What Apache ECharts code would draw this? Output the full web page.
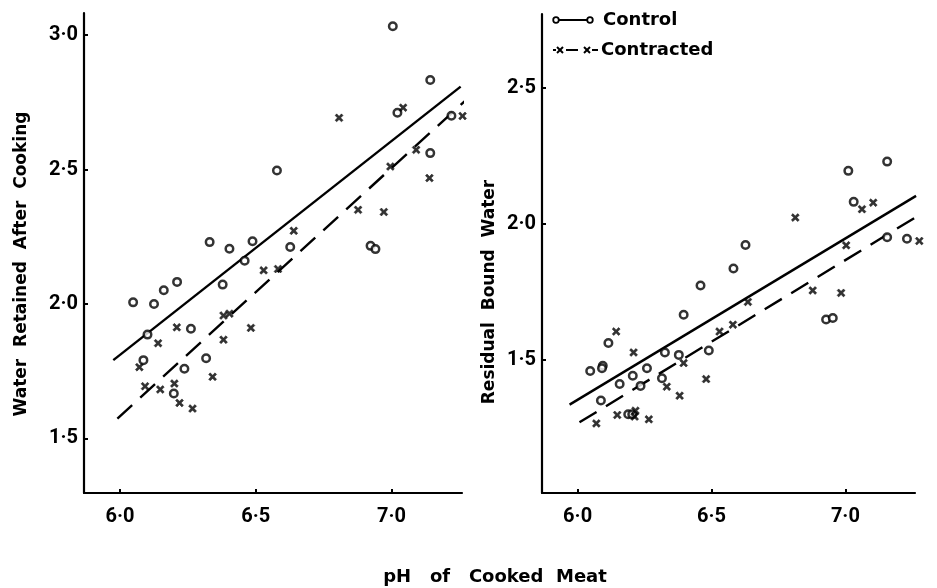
<!DOCTYPE html>
<html>
<head>
<meta charset="utf-8">
<script src="https://cdn.jsdelivr.net/npm/echarts@6/dist/echarts.min.js"></script>
<style>
html,body{margin:0;padding:0;background:#fff;}
#chart{width:937px;height:588px;}
</style>
</head>
<body>
<div id="chart"></div>
<script>
// ---- data ----
var xTicks = [6.0, 6.5, 7.0];
var yTicksLeft = [1.5, 2.0, 2.5, 3.0];
var yTicksRight = [1.5, 2.0, 2.5];

var leftControl = [[7.005,3.033],[7.143,2.833],[7.022,2.711],[7.221,2.700],[7.143,2.561],[6.578,2.496],[6.330,2.230],[6.403,2.205],[6.488,2.233],[6.627,2.212],[6.923,2.216],[6.941,2.204],[6.459,2.161],[6.378,2.072],[6.210,2.082],[6.161,2.051],[6.048,2.006],[6.125,2.000],[6.261,1.908],[6.101,1.886],[6.086,1.791],[6.317,1.798],[6.237,1.759],[6.198,1.667]];
var leftContracted = [[7.043,2.730],[6.807,2.692],[7.262,2.699],[7.091,2.573],[6.996,2.511],[7.140,2.468],[6.877,2.350],[6.972,2.342],[6.640,2.272],[6.529,2.125],[6.582,2.130],[6.381,1.957],[6.403,1.964],[6.209,1.913],[6.482,1.911],[6.140,1.854],[6.381,1.867],[6.071,1.765],[6.341,1.729],[6.092,1.694],[6.148,1.682],[6.200,1.704],[6.219,1.632],[6.267,1.611]];
var rightControl = [[7.011,2.195],[7.156,2.229],[7.031,2.081],[6.627,1.922],[7.156,1.951],[7.230,1.945],[6.582,1.836],[6.459,1.773],[6.396,1.666],[6.928,1.648],[6.953,1.654],[6.490,1.534],[6.378,1.518],[6.326,1.527],[6.315,1.432],[6.259,1.469],[6.206,1.441],[6.235,1.404],[6.157,1.411],[6.115,1.562],[6.094,1.478],[6.091,1.469],[6.047,1.459],[6.087,1.350],[6.189,1.300],[6.204,1.300]];
var rightContracted = [[7.062,2.054],[7.104,2.078],[6.813,2.023],[7.276,1.937],[7.003,1.921],[6.878,1.755],[6.984,1.746],[6.636,1.713],[6.580,1.629],[6.530,1.604],[6.480,1.429],[6.396,1.488],[6.333,1.401],[6.381,1.368],[6.209,1.527],[6.144,1.604],[6.216,1.313],[6.213,1.291],[6.148,1.297],[6.266,1.281],[6.070,1.266]];

var leftControlFit = [[5.975,1.791],[7.255,2.808]];
var leftContractedFit = [[5.990,1.574],[7.298,2.780]];
var rightControlFit = [[5.970,1.335],[7.264,2.103]];
var rightContractedFit = [[6.007,1.270],[7.290,2.041]];

var leftYTitle = 'Water  Retained  After  Cooking';
var rightYTitle = 'Residual  Bound  Water';
var xTitle = 'pH   of   Cooked  Meat';
var legendNames = ['Control', 'Contracted'];

// ---- styling ----
var FONT = '"DejaVu Sans", sans-serif';
var TICKFONT = 'Roboto, "Liberation Sans", sans-serif';
var fmt = function (v) { return Number(v).toFixed(1).replace('.', '\u00B7'); };
var crossPath = 'path://M0,2L2,0L5,3L8,0L10,2L7,5L10,8L8,10L5,7L2,10L0,8L3,5Z';

function xAxisDef(idx) {
  return {
    type: 'value', gridIndex: idx, min: 5.867, max: 7.26,
    axisLine: { show: true, onZero: false, lineStyle: { color: '#000', width: 2.2 } },
    axisTick: { show: true, inside: true, length: 4, customValues: xTicks, lineStyle: { color: '#000', width: 2 } },
    axisLabel: { customValues: xTicks, formatter: fmt, color: '#000', fontFamily: TICKFONT, fontWeight: 'bold', fontSize: 20, margin: 14 },
    splitLine: { show: false }
  };
}
function yAxisDef(idx, min, max, ticks) {
  return {
    type: 'value', gridIndex: idx, min: min, max: max,
    axisLine: { show: true, onZero: false, lineStyle: { color: '#000', width: 2.2 } },
    axisTick: { show: true, inside: true, length: 4, customValues: ticks, lineStyle: { color: '#000', width: 2 } },
    axisLabel: { customValues: ticks, formatter: fmt, color: '#000', fontFamily: TICKFONT, fontWeight: 'bold', fontSize: 20, margin: 6 },
    splitLine: { show: false }
  };
}
function scatter(name, idx, data, isCross) {
  return {
    name: name, type: 'scatter', xAxisIndex: idx, yAxisIndex: idx, data: data, clip: false,
    symbol: isCross ? crossPath : 'circle',
    symbolSize: isCross ? 8 : 7.5,
    itemStyle: isCross ? { color: '#000', borderColor: '#000', borderWidth: 0.5 } : { color: '#fff', borderColor: '#000', borderWidth: 2.5 },
    z: 3
  };
}
function fit(name, idx, data, dashed) {
  return {
    name: name, type: 'line', xAxisIndex: idx, yAxisIndex: idx, data: data, clip: false,
    symbol: 'none', silent: true,
    lineStyle: { color: '#000', width: 2.4, type: dashed ? [20, 11] : 'solid' },
    z: 2
  };
}
function seg(x1, y1, x2, y2) {
  return { type: 'line', shape: { x1: x1, y1: y1, x2: x2, y2: y2 }, style: { stroke: '#000', lineWidth: 2 } };
}

var chart = echarts.init(document.getElementById('chart'), null, { renderer: 'canvas' });
chart.setOption({
  backgroundColor: '#fff',
  animation: false,
  grid: [
    { left: 84, top: 13, width: 378, height: 480, containLabel: false },
    { left: 542, top: 14, width: 373, height: 479, containLabel: false }
  ],
  xAxis: [xAxisDef(0), xAxisDef(1)],
  yAxis: [yAxisDef(0, 1.297, 3.082, yTicksLeft), yAxisDef(1, 1.01, 2.772, yTicksRight)],
  series: [
    fit(legendNames[0], 0, leftControlFit, false),
    fit(legendNames[1], 0, leftContractedFit, true),
    scatter(legendNames[0], 0, leftControl, false),
    scatter(legendNames[1], 0, leftContracted, true),
    fit(legendNames[0], 1, rightControlFit, false),
    fit(legendNames[1], 1, rightContractedFit, true),
    scatter(legendNames[0], 1, rightControl, false),
    scatter(legendNames[1], 1, rightContracted, true)
  ],
  graphic: [
    { type: 'text', x: 22, y: 264, rotation: Math.PI / 2, style: { text: leftYTitle, fill: '#000', font: 'bold 17px ' + FONT, textAlign: 'center', textVerticalAlign: 'middle' } },
    { type: 'text', x: 490, y: 292, rotation: Math.PI / 2, style: { text: rightYTitle, fill: '#000', font: 'bold 17px ' + FONT, textAlign: 'center', textVerticalAlign: 'middle' } },
    { type: 'text', x: 495, y: 577, style: { text: xTitle, fill: '#000', font: 'bold 18px ' + FONT, textAlign: 'center', textVerticalAlign: 'middle' } },
    // legend: Control
    seg(556, 20, 590, 20),
    { type: 'circle', shape: { cx: 556, cy: 20, r: 2.8 }, style: { fill: '#fff', stroke: '#000', lineWidth: 1.8 } },
    { type: 'circle', shape: { cx: 590, cy: 20, r: 2.8 }, style: { fill: '#fff', stroke: '#000', lineWidth: 1.8 } },
    { type: 'text', x: 603, y: 20, style: { text: legendNames[0], fill: '#000', font: 'bold 18px ' + FONT, textVerticalAlign: 'middle' } },
    // legend: Contracted
    seg(553, 50, 556, 50),
    seg(557, 47, 563, 53), seg(563, 47, 557, 53),
    seg(566, 50, 578, 50),
    seg(584, 47, 590, 53), seg(590, 47, 584, 53),
    seg(592, 50, 598, 50),
    { type: 'text', x: 601, y: 50, style: { text: legendNames[1], fill: '#000', font: 'bold 18px ' + FONT, textVerticalAlign: 'middle' } }
  ]
});
</script>
</body>
</html>
